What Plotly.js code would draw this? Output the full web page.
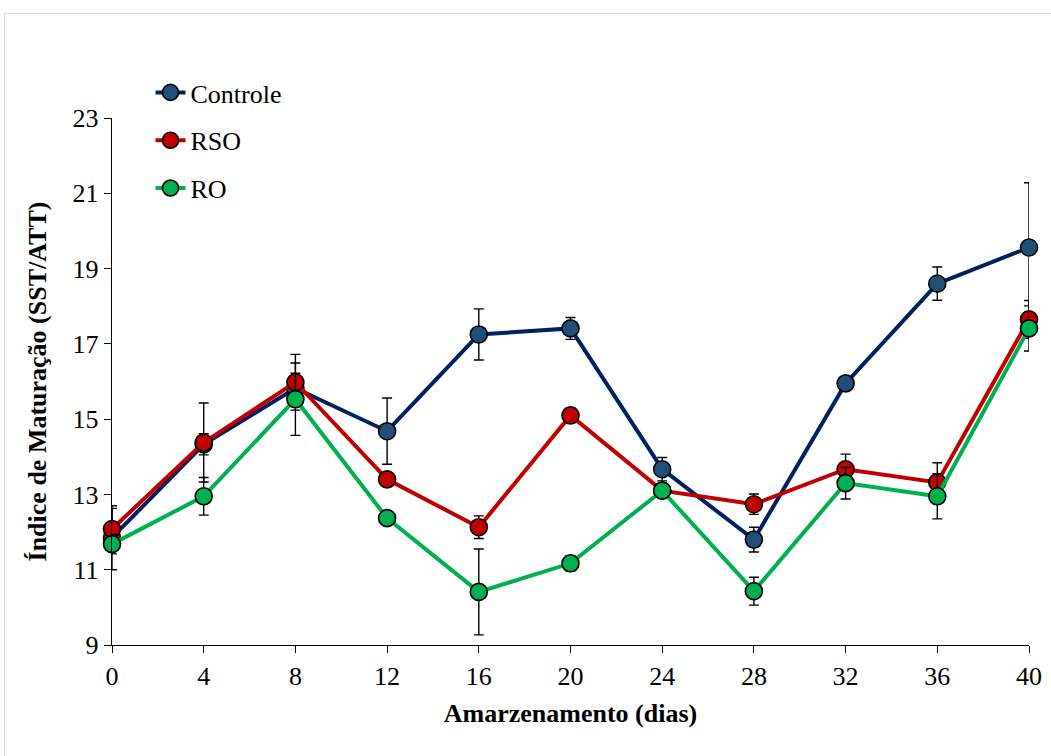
<!DOCTYPE html>
<html>
<head>
<meta charset="utf-8">
<script src="https://cdn.plot.ly/plotly-3.0.1.min.js"></script>
<style>
html,body{margin:0;padding:0;background:#fff;overflow:hidden;}
#frame{position:absolute;left:4px;top:13px;width:1070px;height:770px;border:1px solid #d9d9d9;box-sizing:border-box;}
#plot{position:absolute;left:0;top:0;width:1051px;height:756px;}
</style>
</head>
<body>
<div id="frame"></div>
<div id="plot"></div>
<script>
const days = [0, 4, 8, 12, 16, 20, 24, 28, 32, 36, 40];
const controle = [11.85, 14.33, 15.82, 14.68, 17.25, 17.41, 13.67, 11.80, 15.95, 18.60, 19.56];
const controleErr = [0.85, 0.28, 0.40, 0.88, 0.68, 0.29, 0.31, 0.33, 0.12, 0.44, 1.72];
const rso = [12.08, 14.38, 15.98, 13.40, 12.13, 15.10, 13.10, 12.74, 13.67, 13.32, 17.65];
const rsoErr = [0.55, 1.05, 0.74, 0.12, 0.30, 0.20, 0.12, 0.27, 0.40, 0.52, 0.50];
const ro = [11.68, 12.95, 15.53, 12.37, 10.41, 11.17, 13.10, 10.43, 13.30, 12.95, 17.41];
const roErr = [0.26, 0.50, 0.96, 0.10, 1.14, 0.20, 0.10, 0.37, 0.42, 0.60, 0.60];
const names = ['Controle', 'RSO', 'RO'];

function tr(name, y, err, lineColor, fillColor, grp) {
  return {
    x: days, y: y, name: name, type: 'scatter', mode: 'lines+markers',
    legendgroup: grp,
    line: {color: lineColor, width: 4},
    marker: {size: 17, color: fillColor, line: {color: '#000', width: 1.6}},
    error_y: {type: 'data', array: err, visible: true, color: '#000', thickness: 1.4, width: 5},
    cliponaxis: false
  };
}
const data = [
  tr(names[0], controle, controleErr, '#002060', '#1F4E79', 'a'),
  tr(names[1], rso, rsoErr, '#C00000', '#C00000', 'b'),
  tr(names[2], ro, roErr, '#00B050', '#00B050', 'c')
];
const font = 'Liberation Serif';
const layout = {
  width: 1051, height: 756,
  margin: {l: 112, r: 22, t: 118, b: 111},
  paper_bgcolor: 'rgba(0,0,0,0)', plot_bgcolor: 'rgba(0,0,0,0)',
  font: {family: font, size: 26, color: '#000'},
  showlegend: true,
  legend: {x: 0.042, y: 1.093, xanchor: 'left', yanchor: 'top', bgcolor: 'rgba(0,0,0,0)',
           font: {family: font, size: 26, color: '#000'}, tracegroupgap: 11, traceorder: 'grouped',
           itemwidth: 30},
  xaxis: {range: [0, 40], tickvals: days, ticktext: days.map(String), showgrid: false, zeroline: false,
          showline: true, linecolor: '#000', linewidth: 1.3, ticks: 'outside', ticklen: 7, tickcolor: '#000',
          tickfont: {family: font, size: 26},
          title: {text: '<b>Amarzenamento (dias)</b>', font: {family: font, size: 26}, standoff: 14}},
  yaxis: {range: [9, 23], tick0: 9, dtick: 2, showgrid: false, zeroline: false,
          showline: true, linecolor: '#000', linewidth: 1.3, ticks: 'outside', ticklen: 7, tickcolor: '#000',
          tickfont: {family: font, size: 26},
          title: {text: '<b>Índice de Maturação (SST/ATT)</b>', font: {family: font, size: 26}, standoff: 18}}
};
Plotly.newPlot('plot', data, layout, {displayModeBar: false, staticPlot: true});
</script>
</body>
</html>
